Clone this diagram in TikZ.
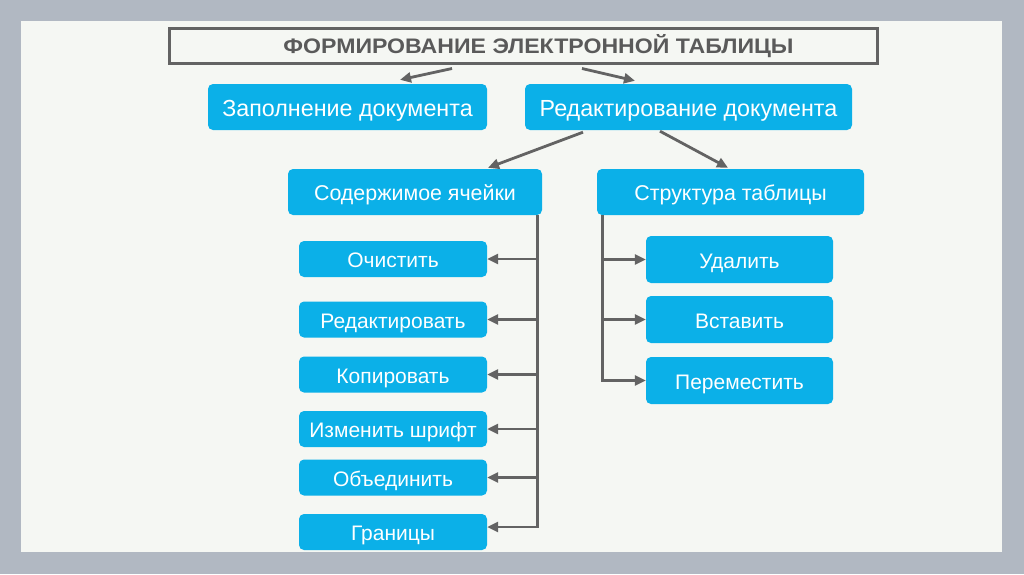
\documentclass[tikz,border=0pt]{standalone}
\usepackage{fontspec}
\setmainfont{Liberation Sans}
\newfontfamily\titlefont{Liberation Sans}[FakeStretch=1.1]
\usetikzlibrary{arrows.meta}
\definecolor{outerbg}{HTML}{B1B8C2}
\definecolor{panel}{HTML}{F5F7F3}
\definecolor{boxblue}{HTML}{0BB0E8}
\definecolor{linegray}{HTML}{636363}
\definecolor{titlegray}{HTML}{5A5A5A}
\begin{document}
\begin{tikzpicture}[x=1pt,y=-1pt,
  box/.style={fill=boxblue, rounded corners=5pt, text=white, inner sep=0pt, text height=17pt, text depth=0pt, font=\fontsize{21}{25}\selectfont},
  bigbox/.style={box, minimum height=46pt, text height=19pt, font=\fontsize{23.3}{28}\selectfont},
  midbox/.style={box, minimum height=46pt, text height=17.5pt, font=\fontsize{21.4}{26}\selectfont},
  lbox/.style={box, minimum width=188pt, minimum height=36pt},
  rbox/.style={box, minimum width=187pt, minimum height=47pt},
  line/.style={draw=linegray, line width=2.8pt},
  conn/.style={line, -{Triangle[length=11pt,width=10pt]}}]
\fill[outerbg] (0,0) rectangle (1024,574);
\fill[panel] (21,21) rectangle (1002,552);
\node[draw=linegray, line width=3pt, minimum width=708pt, minimum height=35pt, inner sep=0pt,
      text height=15.2pt, text depth=0pt,
      text=titlegray, font=\titlefont\bfseries\fontsize{21}{26}\selectfont] (title) at (523.5,45.5) {\hspace*{30pt}ФОРМИРОВАНИЕ ЭЛЕКТРОННОЙ ТАБЛИЦЫ};
\node[bigbox, minimum width=279pt] (a) at (347.5,107) {Заполнение документа};
\node[bigbox, minimum width=327pt] (b) at (688.5,107) {Редактирование документа};
\node[midbox, minimum width=254pt] (c) at (415,192) {Содержимое ячейки};
\node[midbox, minimum width=267pt] (d) at (730.5,192) {Структура таблицы};
\node[lbox] (e1) at (393,259) {Очистить};
\node[lbox] (e2) at (393,319.5) {Редактировать};
\node[lbox] (e3) at (393,374.5) {Копировать};
\node[lbox] (e4) at (393,429) {Изменить шрифт};
\node[lbox] (e5) at (393,477.5) {Объединить};
\node[lbox] (e6) at (393,532) {Границы};
\node[rbox] (r1) at (739.5,259.5) {Удалить};
\node[rbox] (r2) at (739.5,319.5) {Вставить};
\node[rbox] (r3) at (739.5,380.5) {Переместить};
\draw[conn] ([xshift=-71.5pt,yshift=-4pt]title.south) -- ([xshift=52.5pt,yshift=4pt]a.north);
\draw[conn] ([xshift=58.5pt,yshift=-4pt]title.south) -- ([xshift=-53.5pt,yshift=3pt]b.north);
\draw[conn] ([xshift=-105.5pt,yshift=-2pt]b.south) -- ([xshift=73pt,yshift=1pt]c.north);
\draw[conn] ([xshift=-28.5pt,yshift=-1pt]b.south) -- ([xshift=-2.5pt,yshift=1pt]d.north);
\coordinate (lv) at ([xshift=-5pt]c.south east);
\draw[conn] (lv) |- ([yshift=5pt]e6.east);
\foreach \n in {e1,e2,e3,e4,e5} \draw[conn] (lv |- \n.east) -- (\n.east);
\coordinate (rv) at ([xshift=6pt]d.south west);
\draw[conn] (rv) |- (r3.west);
\foreach \n in {r1,r2} \draw[conn] (rv |- \n.west) -- (\n.west);
\end{tikzpicture}
\end{document}
